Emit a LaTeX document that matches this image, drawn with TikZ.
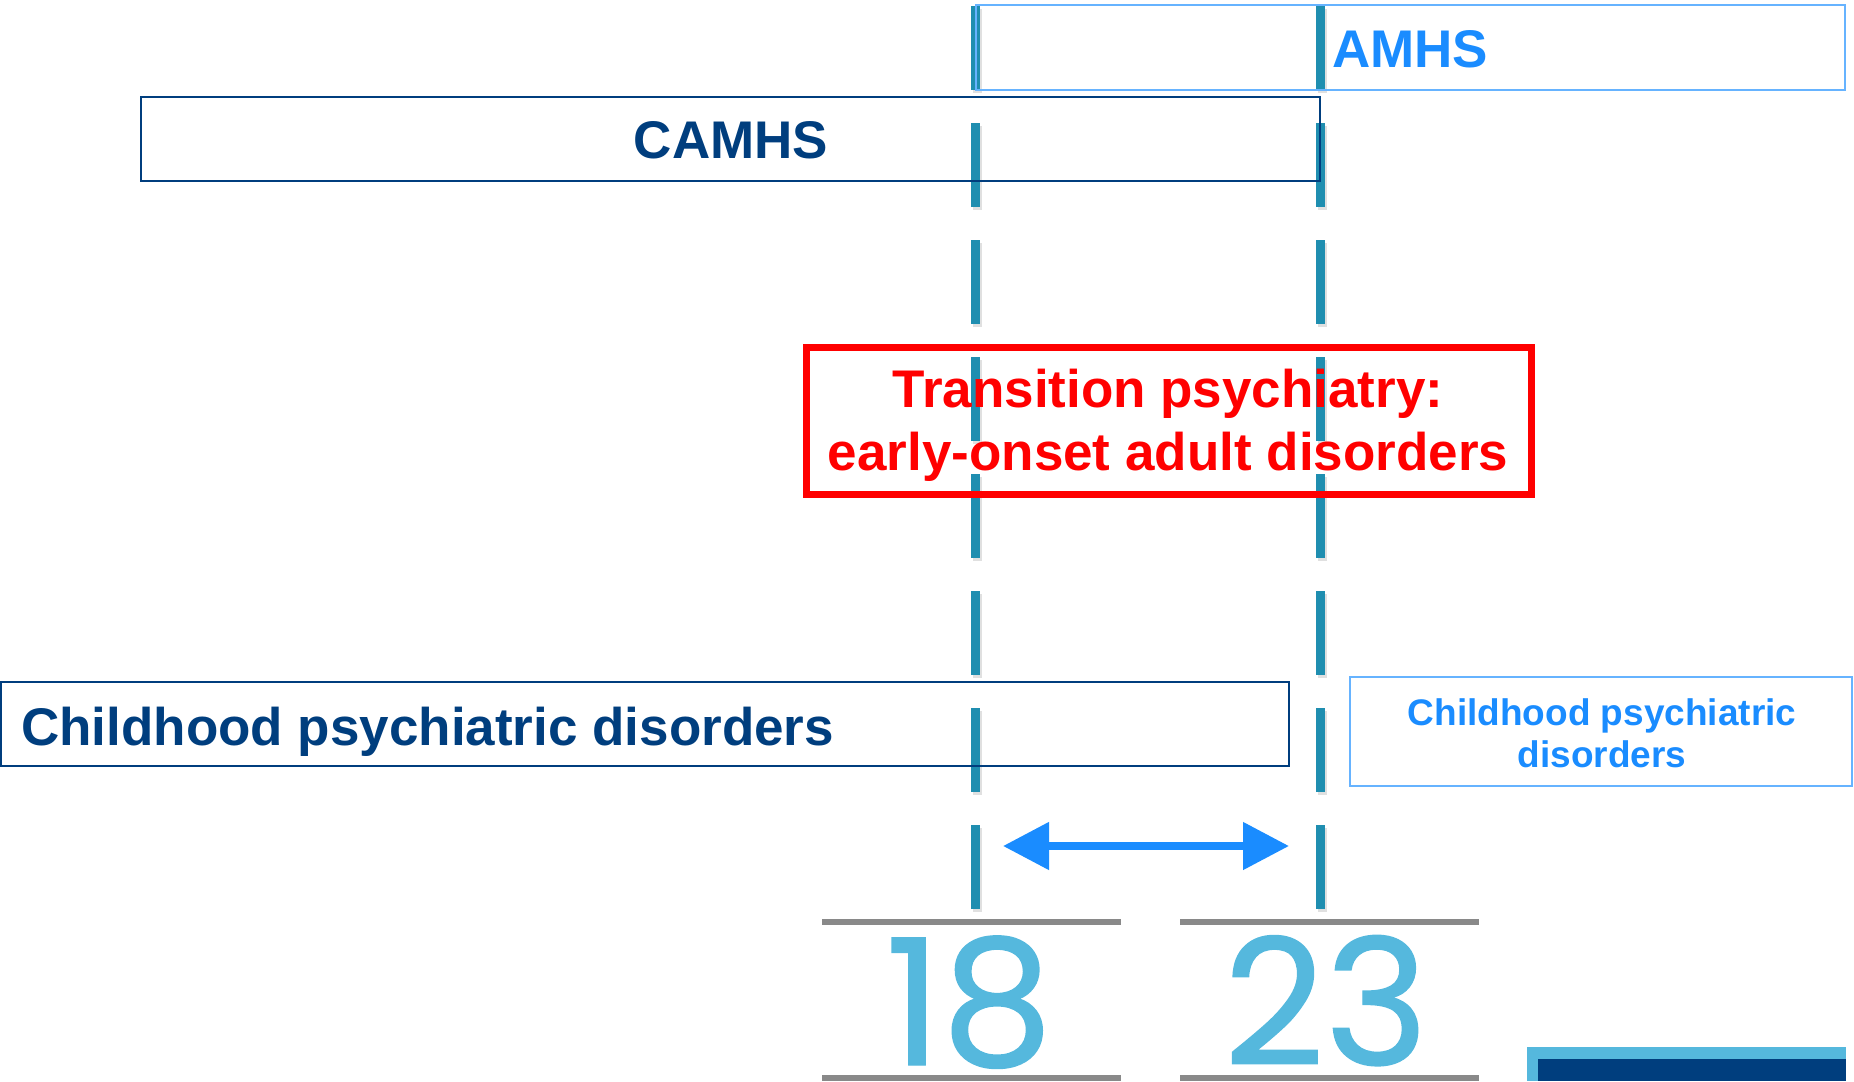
\documentclass[tikz,border=0pt]{standalone}
\usepackage{fontspec}
\setmainfont{Liberation Sans}
\newfontfamily\numfont[FakeBold=0.8]{Poppins}
\usetikzlibrary{arrows.meta}
\definecolor{navy}{HTML}{003E7E}
\definecolor{amhsblue}{HTML}{1A8CFF}
\definecolor{amhsline}{HTML}{66B3FF}
\definecolor{teal}{HTML}{1F8EB0}
\definecolor{numblue}{HTML}{55B8DD}
\definecolor{rulegray}{HTML}{898989}
\definecolor{pureRed}{HTML}{FF0000}
\begin{document}
\begin{tikzpicture}[x=1pt,y=-1pt,
  box/.style={draw, rectangle, inner sep=0pt, outer sep=0pt},
  darkbox/.style={box, draw=navy, line width=2pt},
  lightbox/.style={box, draw=amhsline, line width=2.5pt},
  redbox/.style={box, draw=pureRed, line width=7pt},
  bigtxt/.style={inner sep=0pt, font=\fontsize{53}{62}\selectfont\bfseries},
  smalltxt/.style={inner sep=0pt, align=center, font=\fontsize{37}{42}\selectfont\bfseries},
  numtxt/.style={inner sep=0pt, text=numblue, font=\fontsize{176}{176}\numfont},
  dashline/.style={draw=teal, line width=9pt, dash pattern=on 84pt off 33pt},
  shadowline/.style={draw=black, opacity=0.12, line width=9pt, dash pattern=on 84pt off 33pt},
  rule/.style={draw=rulegray, line width=6pt},
  span/.style={draw=amhsblue, line width=8pt, {Triangle[length=46pt,width=46pt]}-{Triangle[length=46pt,width=46pt]}}
]
\useasboundingbox (0,0) rectangle (1854,1081);

% dashed age lines (behind the texts)
\coordinate (l18t) at (975,6);
\coordinate (l18b) at (975,909);
\coordinate (l23t) at (1320,6);
\coordinate (l23b) at (1320,909);
\draw[shadowline] ([shift={(2,3)}]l18t) -- ([shift={(2,3)}]l18b);
\draw[shadowline] ([shift={(2,3)}]l23t) -- ([shift={(2,3)}]l23b);
\draw[dashline] (l18t) -- (l18b);
\draw[dashline] (l23t) -- (l23b);

% boxes
\node[lightbox, minimum width=869pt, minimum height=85pt] (amhsbox) at (1410.5,47.5) {};
\node[bigtxt, text=amhsblue, anchor=base west] (amhs) at (1332,67) {AMHS};

\node[darkbox, minimum width=1179pt, minimum height=84pt] (camhsbox) at (730.5,139) {};
\node[bigtxt, text=navy, anchor=base] (camhs) at (731,158) {CAMHS};

\node[redbox, minimum width=725pt, minimum height=147pt] (trbox) at (1168.5,420.5) {};
\node[bigtxt, text=pureRed, anchor=base] (tr1) at (1168,407) {Transition psychiatry:};
\node[bigtxt, text=pureRed, anchor=base] (tr2) at (1168,470) {early-onset adult disorders};

\node[darkbox, minimum width=1288pt, minimum height=84pt] (childbox) at (645,724) {};
\node[bigtxt, text=navy, anchor=base west] (child) at (21,745) {Childhood psychiatric disorders};

\node[lightbox, minimum width=502pt, minimum height=109pt] (childbox2) at (1601,731.5) {};
\node[smalltxt, text=amhsblue, anchor=base] (child2a) at (1602,725) {Childhood psychiatric};
\node[smalltxt, text=amhsblue, anchor=base] (child2b) at (1602,767) {disorders};

% double arrow
\coordinate (aL) at (1003,846);
\coordinate (aR) at (1289,846);
\draw[span] (aL) -- (aR);

% age rules and numbers
\coordinate (r1a) at (822,922); \coordinate (r1b) at (1121,922);
\coordinate (r2a) at (1180,922); \coordinate (r2b) at (1479,922);
\coordinate (r3a) at (822,1078); \coordinate (r3b) at (1121,1078);
\coordinate (r4a) at (1180,1078); \coordinate (r4b) at (1479,1078);
\draw[rule] (r1a) -- (r1b);
\draw[rule] (r2a) -- (r2b);
\draw[rule] (r3a) -- (r3b);
\draw[rule] (r4a) -- (r4b);
\node[numtxt, anchor=base] (n18) at (969,1065) {18};
\node[numtxt, anchor=base] (n23) at (1326,1065) {23};

% corner block
\fill[numblue] (1527,1047) rectangle (1846,1081);
\fill[navy] (1538,1059) rectangle (1846,1081);
\end{tikzpicture}
\end{document}
